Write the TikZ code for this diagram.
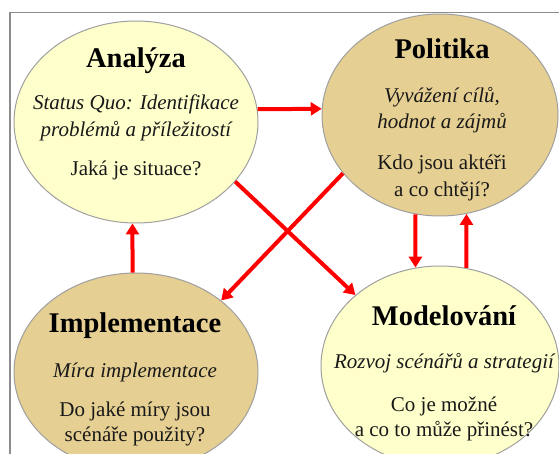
\documentclass[tikz,border=0pt]{standalone}
\usepackage{fontspec}
\setmainfont{Liberation Serif}
\usetikzlibrary{shapes.geometric,arrows.meta}
\definecolor{paleyellow}{HTML}{FFFFCC}
\definecolor{sand}{HTML}{E5CF92}
\definecolor{framegray}{HTML}{8C8C8C}
\tikzset{
  bubble/.style={ellipse, draw=gray!75, line width=1pt, inner sep=0pt},
  heading/.style={anchor=base, font=\fontsize{28.5}{30}\selectfont\bfseries},
  note/.style={anchor=base, text=black!90, font=\fontsize{21}{25}\selectfont},
  inote/.style={note, font=\fontsize{21}{25}\selectfont\itshape},
  redarrow/.style={draw=red, line width=4pt,
    -{Triangle[width=13pt,length=11pt]}}
}
\begin{document}
\begin{tikzpicture}[x=1pt, y=-1pt]
  \useasboundingbox (0,0) rectangle (559,454);
  \fill[white] (0,0) rectangle (559,454);
  \draw[framegray, line width=1.2pt] (10,454) -- (10,12.5) -- (559,12.5);

  % the four bubbles
  \node[bubble, fill=paleyellow, minimum width=244pt, minimum height=202pt] (ana) at (136,122) {};
  \node[bubble, fill=sand, minimum width=236pt, minimum height=202pt] (pol) at (440,115) {};
  \node[bubble, fill=sand, minimum width=244pt, minimum height=198pt] (imp) at (136,372) {};
  \node[bubble, fill=paleyellow, minimum width=238pt, minimum height=200pt] (mod) at (440,366) {};

  % texts
  \node[heading] (anaT) at (136,68) {Analýza};
  \node[inote] (anaA) at (136,110) {Status Quo: Identifikace};
  \node[inote] (anaB) at (136,137) {problémů a příležitostí};
  \node[note] (anaC) at (136,176) {Jaká je situace?};

  \node[heading] (polT) at (442,59) {Politika};
  \node[inote] (polA) at (442,103) {Vyvážení cílů,};
  \node[inote] (polB) at (442,129) {hodnot a zájmů};
  \node[note] (polC) at (442,170) {Kdo jsou aktéři};
  \node[note] (polD) at (442,197) {a co chtějí?};

  \node[heading] (impT) at (135,332) {Implementace};
  \node[inote] (impA) at (135,377) {Míra implementace};
  \node[note] (impB) at (135,416) {Do jaké míry jsou};
  \node[note] (impC) at (135,441) {scénáře použity?};

  \node[heading] (modT) at (444,325) {Modelování};
  \node[inote] (modA) at (444,368) {Rozvoj scénářů a strategií};
  \node[note] (modB) at (444,411) {Co je možné};
  \node[note] (modC) at (444,436) {a co to může přinést?};

  % arrows
  \draw[redarrow] (ana.6) -- (pol.177);
  \draw[redarrow] (imp.92) -- (ana.268);
  \draw[redarrow] (pol.256) -- (mod.104);
  \draw[redarrow] (mod.75) -- (pol.285);
  \draw[redarrow] (ana.-31) -- (mod.140);
  \draw[redarrow] (pol.211) -- (imp.40);
\end{tikzpicture}
\end{document}
